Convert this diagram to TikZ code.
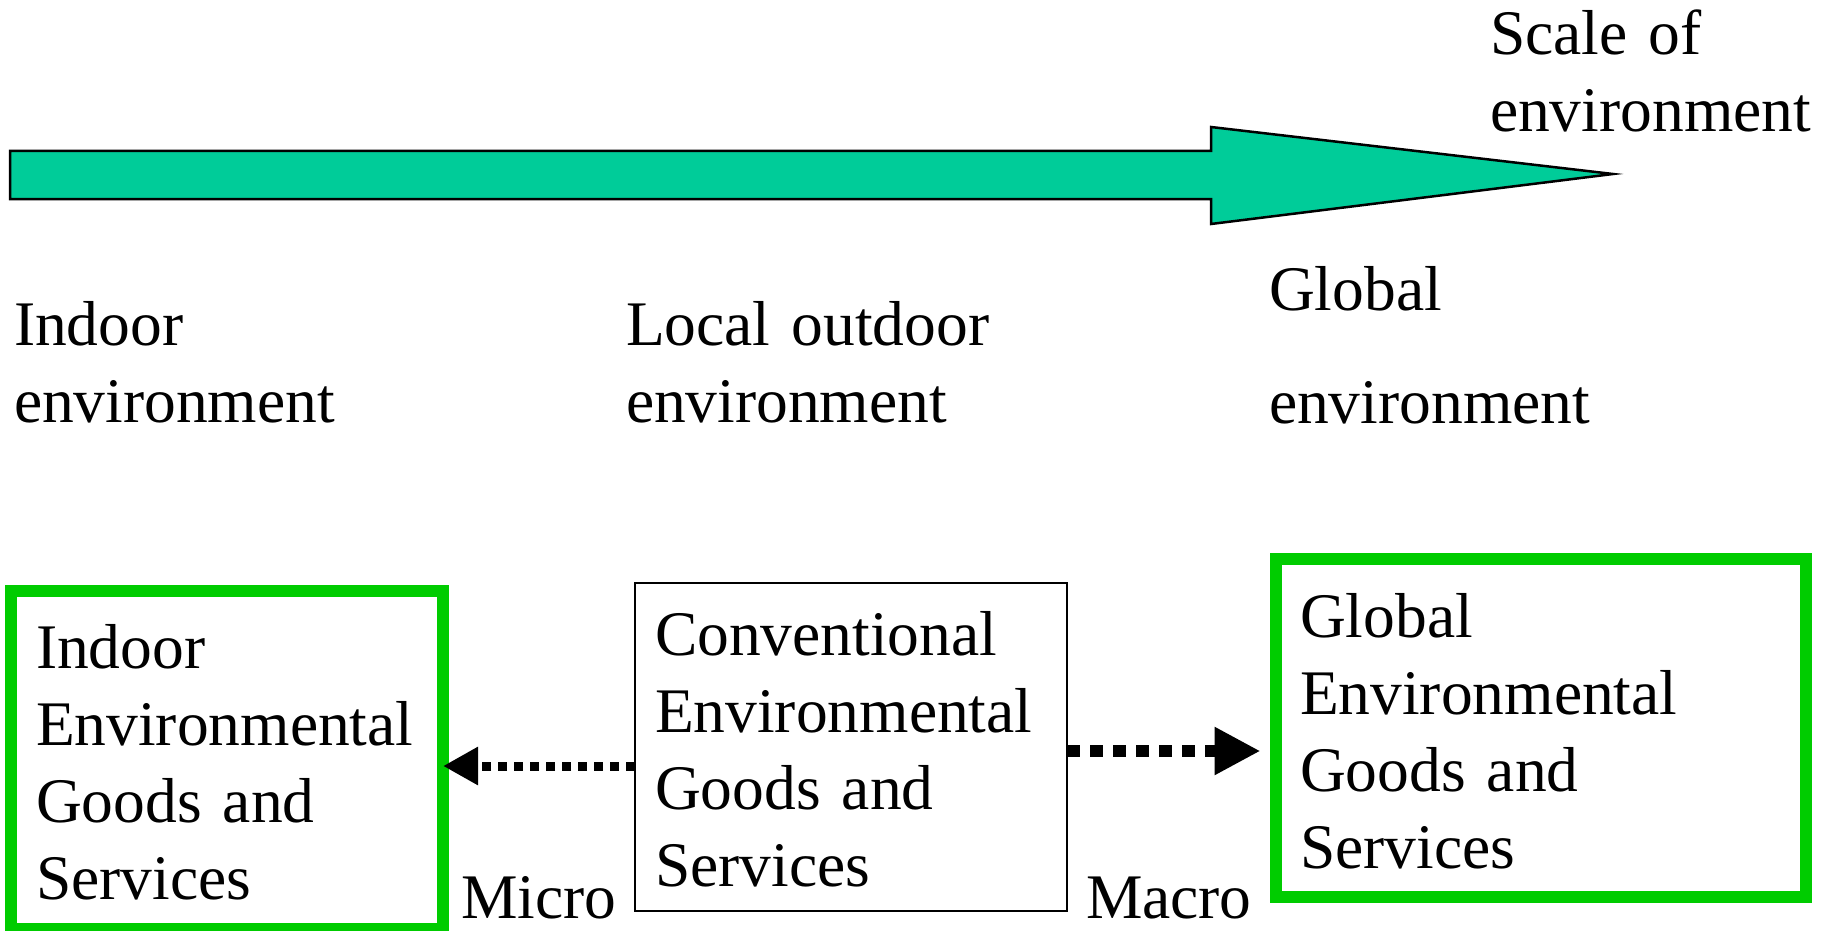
\documentclass[tikz,border=0pt]{standalone}
\usepackage{fontspec}
\setmainfont{Liberation Serif}
\usetikzlibrary{arrows.meta}
\definecolor{teal1}{HTML}{00CC99}
\definecolor{green1}{HTML}{00CC00}
\tikzset{
  lbl/.style={anchor=base west,inner sep=0pt,outer sep=0pt,align=left,text width=#1,
    font=\fontsize{63.5pt}{77pt}\selectfont},
  lbl/.default=560pt,
  gbox/.style={draw=green1,line width=12pt,inner sep=0pt,outer sep=0pt},
  kbox/.style={draw=black,line width=2pt,inner sep=0pt,outer sep=0pt},
  dotarrowA/.style={line width=9pt,dash pattern=on 9pt off 7pt,-{Triangle[length=35pt,width=36pt]}},
  dotarrowB/.style={line width=12pt,dash pattern=on 13pt off 10pt,-{Triangle[length=46pt,width=45pt]}},
}
\begin{document}
\begin{tikzpicture}[x=1pt,y=-1pt]
\useasboundingbox (0,0) rectangle (1829,931);
% big scale arrow
\draw[fill=teal1,line width=2.5pt,line join=miter]
  (10,151) -- (1211,151) -- (1211,127) -- (1613,174) -- (1211,224) -- (1211,199) -- (10,199) -- cycle;
\node[lbl] (scale) at (1490,55) {\fontsize{63.5pt}{75pt}\selectfont Scale of\\ environment};
% environment labels
\node[lbl] (indoorenv) at (14,345) {Indoor\\ environment};
\node[lbl] (localenv) at (626,345) {Local outdoor\\ environment};
\node[lbl] (globalenv) at (1269,310) {Global\\[36pt] environment};
% boxes
\node[gbox,minimum width=432pt,minimum height=338pt] (left) at (227,760) {};
\node[kbox,minimum width=432pt,minimum height=328pt] (mid) at (851,747) {};
\node[gbox,minimum width=530.5pt,minimum height=338pt] (right) at (1540.75,728) {};
\node[lbl] (lefttxt) at (36,668) {Indoor\\ Environmental\\ Goods and\\ Services};
\node[lbl] (midtxt) at (655,655) {Conventional\\ Environmental\\ Goods and\\ Services};
\node[lbl] (righttxt) at (1300,637) {Global\\ Environmental\\ Goods and\\ Services};
% connectors
\coordinate (ya) at (0,766);
\coordinate (yb) at (0,751);
\draw[dotarrowA] (mid.west |- ya) -- (left.east |- ya);
\draw[dotarrowB] (mid.east |- yb) -- ([xshift=-15pt]right.west |- yb);
\node[lbl=200pt] (micro) at (461,918) {Micro};
\node[lbl=200pt] (macro) at (1086,918) {Macro};
\end{tikzpicture}
\end{document}
